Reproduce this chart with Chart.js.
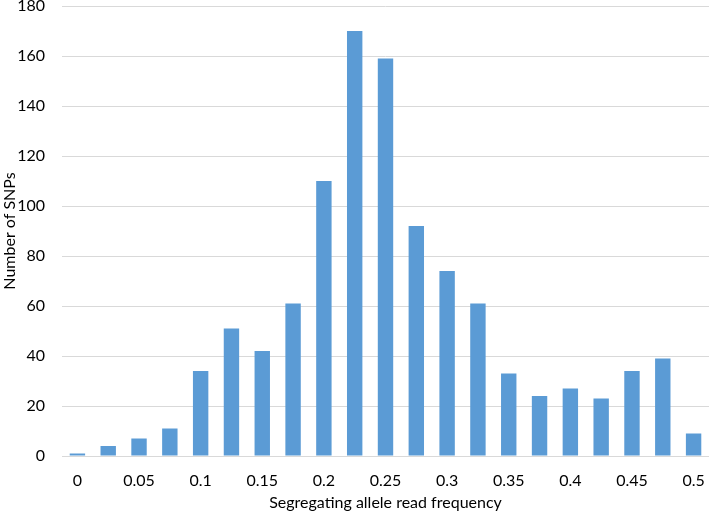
<!DOCTYPE html>
<html lang="en">
<head>
    <meta charset="UTF-8">
    <title>Segregating allele read frequency</title>
    <script src="https://cdn.jsdelivr.net/npm/chart.js"></script>
    <style>
        body {
            margin: 0;
            background-color: white;
        }
        .chart-box {
            width: 709px;
            height: 512px;
        }
    </style>
</head>
<body>
    <div class="chart-box">
        <canvas id="histChart"></canvas>
    </div>

    <script>
        // bins of allele read frequency (step 0.025)
        const bins = ['0', '0.025', '0.05', '0.075', '0.1', '0.125', '0.15', '0.175', '0.2', '0.225', '0.25',
                      '0.275', '0.3', '0.325', '0.35', '0.375', '0.4', '0.425', '0.45', '0.475', '0.5'];
        const snpCounts = [1, 4, 7, 11, 34, 51, 42, 61, 110, 170, 159, 92, 74, 61, 33, 24, 27, 23, 34, 39, 9];
        // only every other bin gets a label on the axis
        const shownLabels = ['0', '0.05', '0.1', '0.15', '0.2', '0.25', '0.3', '0.35', '0.4', '0.45', '0.5'];

        const font = "Lato, 'Open Sans', sans-serif";

        const ctx = document.getElementById('histChart').getContext('2d');
        new Chart(ctx, {
            type: 'bar',
            data: {
                labels: bins,
                datasets: [{
                    label: 'Number of SNPs',
                    data: snpCounts,
                    backgroundColor: '#5B9BD5',
                    barPercentage: 0.5,
                    categoryPercentage: 1.0
                }]
            },
            options: {
                responsive: true,
                maintainAspectRatio: false,
                animation: false,
                layout: {
                    padding: 0
                },
                scales: {
                    x: {
                        grid: { display: false },
                        border: { display: true, color: '#d9d9d9' },
                        ticks: {
                            autoSkip: false,
                            maxRotation: 0,
                            color: '#000',
                            font: { family: font, size: 16 },
                            padding: 7,
                            callback: function (value) {
                                const lbl = bins[value];
                                return shownLabels.includes(lbl) ? lbl : '';
                            }
                        },
                        title: {
                            display: true,
                            text: 'Segregating allele read frequency',
                            color: '#000',
                            font: { family: font, size: 16 },
                            padding: { top: 0, bottom: 0 }
                        },
                        afterFit: function (scale) {
                            scale.height = 56;
                            scale.paddingLeft = 0;
                            scale.paddingRight = 0;
                        }
                    },
                    y: {
                        min: 0,
                        max: 180,
                        ticks: {
                            stepSize: 20,
                            color: '#000',
                            font: { family: font, size: 16 },
                            padding: 17
                        },
                        grid: { color: '#d9d9d9', drawTicks: false },
                        border: { display: false },
                        title: {
                            display: true,
                            text: 'Number of SNPs',
                            color: '#000',
                            font: { family: font, size: 16 },
                            padding: { top: 0, bottom: 0 }
                        },
                        afterFit: function (scale) {
                            scale.width = 62;
                            scale.paddingTop = 6;
                        }
                    }
                },
                plugins: {
                    legend: { display: false },
                    tooltip: { enabled: false }
                }
            }
        });
    </script>
</body>
</html>
